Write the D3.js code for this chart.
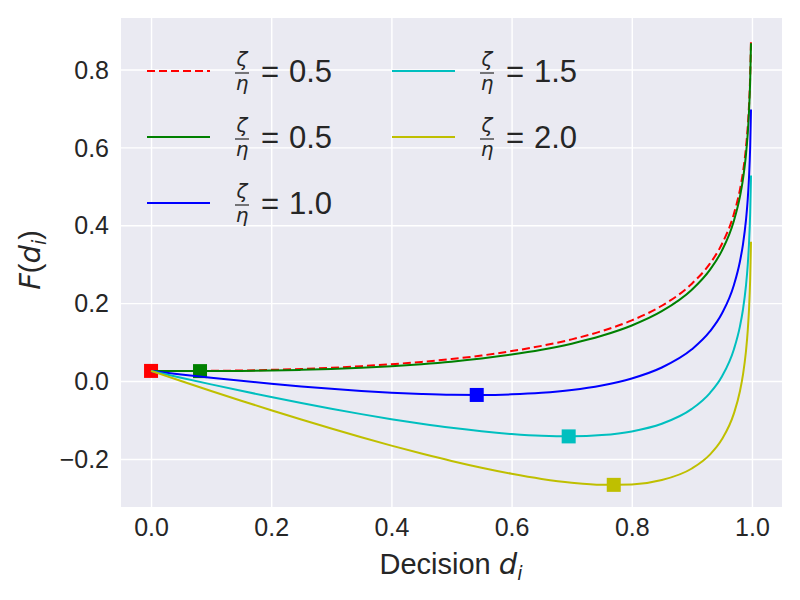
<!DOCTYPE html>
<html>
<head>
<meta charset="utf-8">
<script src="https://cdn.jsdelivr.net/npm/d3@7"></script>
<style>
  body { margin: 0; background: #fff; }
  text { font-family: "Liberation Sans", Arial, sans-serif; fill: #262626; }
  .math { font-family: "DejaVu Sans", sans-serif; font-style: italic; }
</style>
</head>
<body>
<div id="chart"></div>
<script>
// decision values d_i (sampled, dense near 1)
var decisions = [0, 0.05, 0.1, 0.15, 0.2, 0.25, 0.3, 0.35, 0.4, 0.45, 0.5, 0.55, 0.6, 0.65,
  0.7, 0.75, 0.8, 0.85, 0.9, 0.93, 0.95, 0.97, 0.98, 0.985, 0.99, 0.993, 0.995, 0.997, 0.9984];

// F(d_i) per curve
var redValues = [0.0260, 0.0259, 0.0262, 0.0271, 0.0287, 0.0310, 0.0340, 0.0381, 0.0432, 0.0492,
  0.0565, 0.0655, 0.0769, 0.0903, 0.1070, 0.1282, 0.1557, 0.1933, 0.2500, 0.3014, 0.3518,
  0.4296, 0.4916, 0.5359, 0.5987, 0.6532, 0.7047, 0.7815, 0.8750];
var greenValues = [0.0260, 0.0256, 0.0255, 0.0260, 0.0270, 0.0287, 0.0310, 0.0341, 0.0382, 0.0434,
  0.0498, 0.0579, 0.0679, 0.0803, 0.0960, 0.1162, 0.1427, 0.1793, 0.2345, 0.2854, 0.3348,
  0.4116, 0.4736, 0.5179, 0.5807, 0.6362, 0.6887, 0.7685, 0.8670];
var blueValues = [0.0260, 0.0171, 0.0085, 0.0005, -0.0070, -0.0138, -0.0200, -0.0254, -0.0298, -0.0331,
  -0.0352, -0.0356, -0.0341, -0.0302, -0.0230, -0.0113, 0.0067, 0.0348, 0.0815, 0.1273, 0.1733,
  0.2467, 0.3070, 0.3505, 0.4124, 0.4674, 0.5195, 0.5990, 0.6972];
var cyanValues = [0.0260, 0.0086, -0.0085, -0.0250, -0.0410, -0.0563, -0.0710, -0.0849, -0.0978, -0.1096,
  -0.1202, -0.1291, -0.1361, -0.1407, -0.1420, -0.1388, -0.1293, -0.1097, -0.0715, -0.0308, 0.0118,
  0.0818, 0.1404, 0.1830, 0.2441, 0.2986, 0.3504, 0.4295, 0.5275];
var yellowValues = [0.0260, 0.0001, -0.0255, -0.0505, -0.0750, -0.0988, -0.1220, -0.1444, -0.1658, -0.1861,
  -0.2052, -0.2226, -0.2381, -0.2512, -0.2610, -0.2663, -0.2653, -0.2542, -0.2245, -0.1889, -0.1497,
  -0.0831, -0.0262, 0.0156, 0.0758, 0.1298, 0.1812, 0.2600, 0.3578];

// square markers (d, F)
var markerD = [0, 0.0815, 0.542, 0.695, 0.77];
var markerF = [0.026, 0.0255, -0.0357, -0.1421, -0.2665];

var ratioLabels = ["0.5", "0.5", "1.0", "1.5", "2.0"];
var xTicks = [0, 0.2, 0.4, 0.6, 0.8, 1.0];
var yTicks = [-0.2, 0, 0.2, 0.4, 0.6, 0.8];

var colors = ["#ff0000", "#008000", "#0000ff", "#00bfbf", "#bfbf00"];
var seriesValues = [redValues, greenValues, blueValues, cyanValues, yellowValues];

var width = 800, height = 600;
var margin = {top: 18, right: 18, bottom: 93, left: 121};

var svg = d3.select("#chart").append("svg")
  .attr("width", width)
  .attr("height", height);

// matplotlib style 5% padding around the data
var allF = d3.merge(seriesValues);
var fMin = d3.min(allF), fMax = d3.max(allF);
var fPad = (fMax - fMin) * 0.05;

var x = d3.scaleLinear()
  .domain([-0.05, 1.05])
  .range([margin.left, width - margin.right]);
var y = d3.scaleLinear()
  .domain([fMin - fPad, fMax + fPad])
  .range([height - margin.bottom, margin.top]);

// background
svg.append("rect")
  .attr("x", margin.left)
  .attr("y", margin.top)
  .attr("width", width - margin.left - margin.right)
  .attr("height", height - margin.top - margin.bottom)
  .attr("fill", "#eaeaf2");

// grid + tick labels through axes
var fmt = d3.format(".1f");
var xAxis = svg.append("g")
  .attr("transform", "translate(0," + (height - margin.bottom) + ")")
  .call(d3.axisBottom(x).tickValues(xTicks).tickFormat(fmt)
    .tickSize(-(height - margin.top - margin.bottom)).tickPadding(11));
var yAxis = svg.append("g")
  .attr("transform", "translate(" + margin.left + ",0)")
  .call(d3.axisLeft(y).tickValues(yTicks).tickFormat(fmt)
    .tickSize(-(width - margin.left - margin.right)).tickPadding(12));

[xAxis, yAxis].forEach(function (ax) {
  ax.select(".domain").remove();
  ax.selectAll(".tick line").attr("stroke", "#fff").attr("stroke-width", 1.4);
  ax.selectAll(".tick text")
    .attr("fill", "#262626")
    .style("font-family", "'Liberation Sans', Arial, sans-serif")
    .style("font-size", "25px");
});
yAxis.selectAll(".tick text").attr("dy", "0.35em");

// curves, each followed by its marker
var line = d3.line()
  .x(function (d) { return x(d[0]); })
  .y(function (d) { return y(d[1]); })
  .curve(d3.curveMonotoneX);

seriesValues.forEach(function (vals, i) {
  var pts = decisions.map(function (d, j) { return [d, vals[j]]; });
  svg.append("path")
    .datum(pts)
    .attr("d", line)
    .attr("fill", "none")
    .attr("stroke", colors[i])
    .attr("stroke-width", 2)
    .attr("stroke-dasharray", i === 0 ? "8,4" : null);

  var ms = 14;
  svg.append("rect")
    .attr("x", x(markerD[i]) - ms / 2)
    .attr("y", y(markerF[i]) - ms / 2)
    .attr("width", ms)
    .attr("height", ms)
    .attr("fill", colors[i]);
});

// legend (2 columns, filled column-wise)
var legendCols = [147, 392];
var legendRows = [71, 137, 203];
ratioLabels.forEach(function (lab, i) {
  var col = i < 3 ? 0 : 1;
  var row = i < 3 ? i : i - 3;
  var lx = legendCols[col], ly = legendRows[row];
  var g = svg.append("g").attr("transform", "translate(" + lx + "," + ly + ")");

  g.append("line")
    .attr("x1", 0).attr("x2", 63)
    .attr("y1", 0).attr("y2", 0)
    .attr("stroke", colors[i])
    .attr("stroke-width", 2)
    .attr("stroke-dasharray", i === 0 ? "8,4" : null);

  // fraction zeta / eta
  var fx = 95;
  g.append("text").attr("class", "math")
    .attr("x", fx).attr("y", -5)
    .attr("text-anchor", "middle")
    .style("font-size", "20px")
    .text("ζ");
  g.append("line")
    .attr("x1", fx - 7).attr("x2", fx + 7)
    .attr("y1", 2).attr("y2", 2)
    .attr("stroke", "#262626").attr("stroke-width", 1.2);
  g.append("text").attr("class", "math")
    .attr("x", fx).attr("y", 19)
    .attr("text-anchor", "middle")
    .style("font-size", "20px")
    .text("η");

  g.append("text")
    .attr("x", 114).attr("y", 11)
    .style("font-size", "31px")
    .text("=");
  g.append("text")
    .attr("x", 142).attr("y", 11)
    .style("font-size", "31px")
    .text(lab);
});

// axis labels
var xl = svg.append("text")
  .attr("x", 451).attr("y", 574)
  .attr("text-anchor", "middle")
  .style("font-size", "29px");
xl.append("tspan").text("Decision ");
xl.append("tspan").attr("class", "math").text("d");
xl.append("tspan").attr("class", "math").attr("dy", 6).style("font-size", "19px").text("i");

var yl = svg.append("text")
  .attr("transform", "translate(40,260) rotate(-90)")
  .attr("text-anchor", "middle")
  .style("font-size", "29px");
yl.append("tspan").attr("class", "math").text("F");
yl.append("tspan").text("(");
yl.append("tspan").attr("class", "math").text("d");
yl.append("tspan").attr("class", "math").attr("dy", 6).style("font-size", "19px").text("i");
yl.append("tspan").attr("dy", -6).text(")");
</script>
</body>
</html>
